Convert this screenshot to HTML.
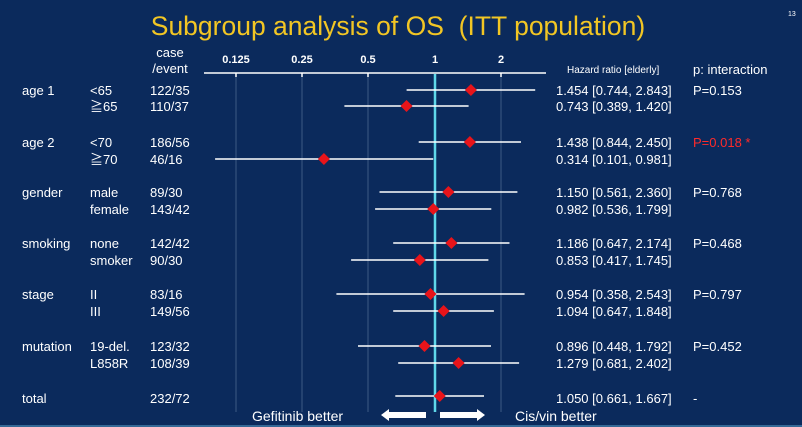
<!DOCTYPE html>
<html><head><meta charset="utf-8"><style>
html,body{margin:0;padding:0;background:#0b2a5c;}
svg{display:block;}
text{font-family:"Liberation Sans","Noto Sans CJK JP",sans-serif;fill:#fff;}
</style></head><body>
<svg width="802" height="427" viewBox="0 0 802 427">
<rect width="802" height="427" fill="#0b2a5c"/>
<text x="398" y="35" text-anchor="middle" font-size="26.5" style="fill:#f2c624;white-space:pre">Subgroup analysis of OS  (ITT population)</text>
<text x="788" y="16" font-size="7">13</text>
<g stroke="#3d5a85" stroke-width="1">
<line x1="236" y1="74" x2="236" y2="412"/><line x1="302" y1="74" x2="302" y2="412"/><line x1="368" y1="74" x2="368" y2="412"/><line x1="501" y1="74" x2="501" y2="412"/>
</g>
<line x1="204" y1="73" x2="546" y2="73" stroke="#fff" stroke-width="1.5"/>
<g stroke="#fff" stroke-width="1.5"><line x1="236" y1="73" x2="236" y2="77"/><line x1="302" y1="73" x2="302" y2="77"/><line x1="368" y1="73" x2="368" y2="77"/><line x1="501" y1="73" x2="501" y2="77"/></g>
<g font-size="11" font-weight="bold" text-anchor="middle">
<text x="236" y="63">0.125</text><text x="302" y="63">0.25</text><text x="368" y="63">0.5</text><text x="435" y="63">1</text><text x="501" y="63">2</text>
</g>
<line x1="435" y1="74" x2="435" y2="412" stroke="#5fd8ea" stroke-width="2.5"/>
<g font-size="13">
<text x="170" y="57" text-anchor="middle">case</text><text x="170" y="73" text-anchor="middle">/event</text>
<text x="567" y="73" font-size="10">Hazard ratio [elderly]</text>
<text x="693" y="74">p: interaction</text>
<text x="22" y="95">age 1</text><text x="90" y="95">&lt;65</text><text x="90" y="111">≧65</text>
<text x="22" y="147">age 2</text><text x="90" y="147">&lt;70</text><text x="90" y="164">≧70</text>
<text x="22" y="197">gender</text><text x="90" y="197">male</text><text x="90" y="214">female</text>
<text x="22" y="248">smoking</text><text x="90" y="248">none</text><text x="90" y="265">smoker</text>
<text x="22" y="299">stage</text><text x="90" y="299">II</text><text x="90" y="316">III</text>
<text x="22" y="351">mutation</text><text x="90" y="351">19-del.</text><text x="90" y="368">L858R</text>
<text x="22" y="403">total</text>
<text x="150" y="95">122/35</text><text x="150" y="111">110/37</text>
<text x="150" y="147">186/56</text><text x="150" y="164">46/16</text>
<text x="150" y="197">89/30</text><text x="150" y="214">143/42</text>
<text x="150" y="248">142/42</text><text x="150" y="265">90/30</text>
<text x="150" y="299">83/16</text><text x="150" y="316">149/56</text>
<text x="150" y="351">123/32</text><text x="150" y="368">108/39</text>
<text x="150" y="403">232/72</text>
<text x="556" y="95">1.454 [0.744, 2.843]</text><text x="556" y="111">0.743 [0.389, 1.420]</text>
<text x="556" y="147">1.438 [0.844, 2.450]</text><text x="556" y="164">0.314 [0.101, 0.981]</text>
<text x="556" y="197">1.150 [0.561, 2.360]</text><text x="556" y="214">0.982 [0.536, 1.799]</text>
<text x="556" y="248">1.186 [0.647, 2.174]</text><text x="556" y="265">0.853 [0.417, 1.745]</text>
<text x="556" y="299">0.954 [0.358, 2.543]</text><text x="556" y="316">1.094 [0.647, 1.848]</text>
<text x="556" y="351">0.896 [0.448, 1.792]</text><text x="556" y="368">1.279 [0.681, 2.402]</text>
<text x="556" y="403">1.050 [0.661, 1.667]</text>
<text x="693" y="95">P=0.153</text>
<text x="693" y="147" style="fill:#ff2a2a">P=0.018 *</text>
<text x="693" y="197">P=0.768</text><text x="693" y="248">P=0.468</text><text x="693" y="299">P=0.797</text><text x="693" y="351">P=0.452</text>
<text x="693" y="403">-</text>
<text x="252" y="421" font-size="14">Gefitinib better</text>
<text x="515" y="421" font-size="14">Cis/vin better</text>
</g>
<g stroke="#fff" stroke-width="1.5">
<line x1="406.6" y1="90" x2="535.2" y2="90"/><line x1="344.4" y1="106" x2="468.6" y2="106"/>
<line x1="418.7" y1="142" x2="521" y2="142"/><line x1="215.1" y1="159" x2="433.2" y2="159"/>
<line x1="379.5" y1="192" x2="517.4" y2="192"/><line x1="375.1" y1="209" x2="491.3" y2="209"/>
<line x1="393.2" y1="243" x2="509.5" y2="243"/><line x1="351.1" y1="260" x2="488.4" y2="260"/>
<line x1="336.4" y1="294" x2="524.6" y2="294"/><line x1="393.2" y1="311" x2="493.9" y2="311"/>
<line x1="358" y1="346" x2="491" y2="346"/><line x1="398.2" y1="363" x2="519.1" y2="363"/>
<line x1="395.3" y1="396" x2="484" y2="396"/>
</g>
<g fill="#e8141a">
<path d="M470.9 84l6 6-6 6-6-6z"/><path d="M406.5 100l6 6-6 6-6-6z"/>
<path d="M469.9 136l6 6-6 6-6-6z"/><path d="M323.9 153l6 6-6 6-6-6z"/>
<path d="M448.4 186l6 6-6 6-6-6z"/><path d="M433.3 203l6 6-6 6-6-6z"/>
<path d="M451.4 237l6 6-6 6-6-6z"/><path d="M419.8 254l6 6-6 6-6-6z"/>
<path d="M430.5 288l6 6-6 6-6-6z"/><path d="M443.6 305l6 6-6 6-6-6z"/>
<path d="M424.5 340l6 6-6 6-6-6z"/><path d="M458.6 357l6 6-6 6-6-6z"/>
<path d="M439.7 390l6 6-6 6-6-6z"/>
</g>
<g fill="#fff">
<path d="M381 415l8-6v3h37v6h-37v3z"/>
<path d="M485 415l-8-6v3h-37v6h37v3z"/>
</g>
<line x1="0" y1="426" x2="802" y2="426" stroke="#5fa8d0" stroke-width="1"/>
</svg>
</body></html>
